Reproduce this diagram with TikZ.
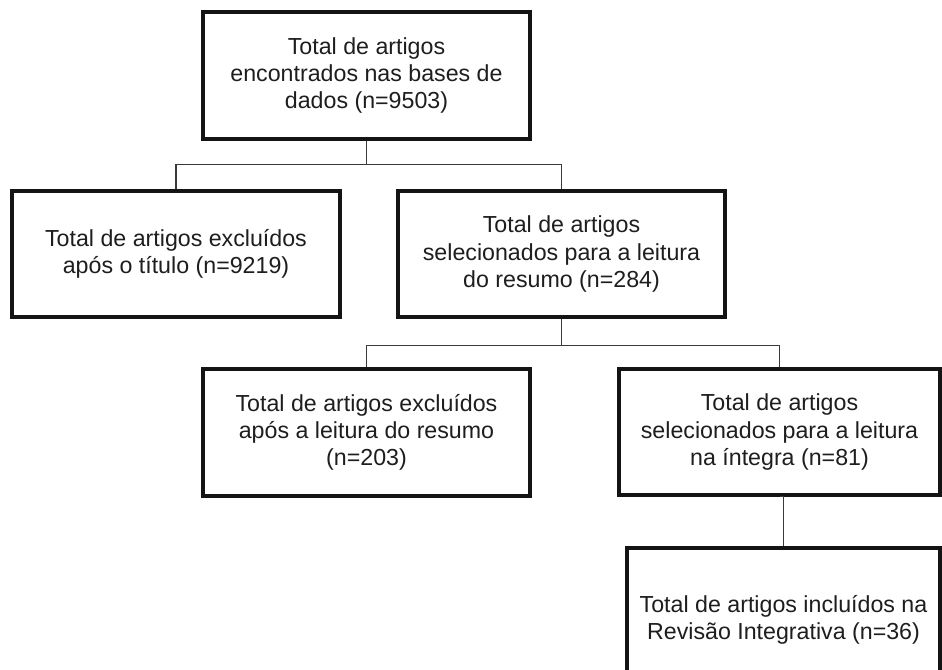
\documentclass[tikz,border=0pt]{standalone}
\usepackage{fontspec}
\setmainfont{Liberation Sans}
\definecolor{boxline}{HTML}{141414}
\definecolor{connline}{HTML}{3A3A3A}
\definecolor{txt}{HTML}{1E1E1E}
\begin{document}
\begin{tikzpicture}[x=0.75pt,y=-0.75pt,
  box/.style={draw=boxline, line width=2.5pt, fill=white, align=center,
    inner sep=0pt, text=txt, font=\fontsize{17.4}{20.4}\selectfont},
  conn/.style={draw=connline, line width=1.2pt}]
\useasboundingbox (0,0) rectangle (942,670);
\clip (0,0) rectangle (942,670);
\fill[white] (0,0) rectangle (942,670);

\node[box, minimum width=245.25pt, minimum height=95.25pt] (b1) at (366.5,75.5)
  {Total de artigos\\encontrados nas bases de\\dados (n=9503)};
\node[box, minimum width=246pt, minimum height=94.5pt] (b2) at (176,254)
  {Total de artigos excluídos\\após o título (n=9219)};
\node[box, minimum width=245.25pt, minimum height=94.5pt] (b3) at (561.5,254)
  {Total de artigos\\selecionados para a leitura\\do resumo (n=284)};
\node[box, minimum width=245.25pt, minimum height=95.25pt] (b4) at (366.5,432.5)
  {Total de artigos excluídos\\após a leitura do resumo\\(n=203)};
\node[box, minimum width=240.75pt, minimum height=94.5pt] (b5) at (779.5,432)
  {Total de artigos\\selecionados para a leitura\\na íntegra (n=81)};
\node[box, minimum width=234.75pt, minimum height=108pt] (b6) at (783.5,620)
  {Total de artigos incluídos na\\Revisão Integrativa (n=36)};

\draw[conn] (b1.south) -- ++(0,24) coordinate (j1);
\draw[conn] (j1) -| (b2.north);
\draw[conn] (j1) -| (b3.north);
\draw[conn] (b3.south) -- ++(0,27) coordinate (j2);
\draw[conn] (j2) -| (b4.north);
\draw[conn] (j2) -| (b5.north);
\draw[conn] (b5.south) -- (b6.north |- b5.south) -- (b6.north);
\end{tikzpicture}
\end{document}
